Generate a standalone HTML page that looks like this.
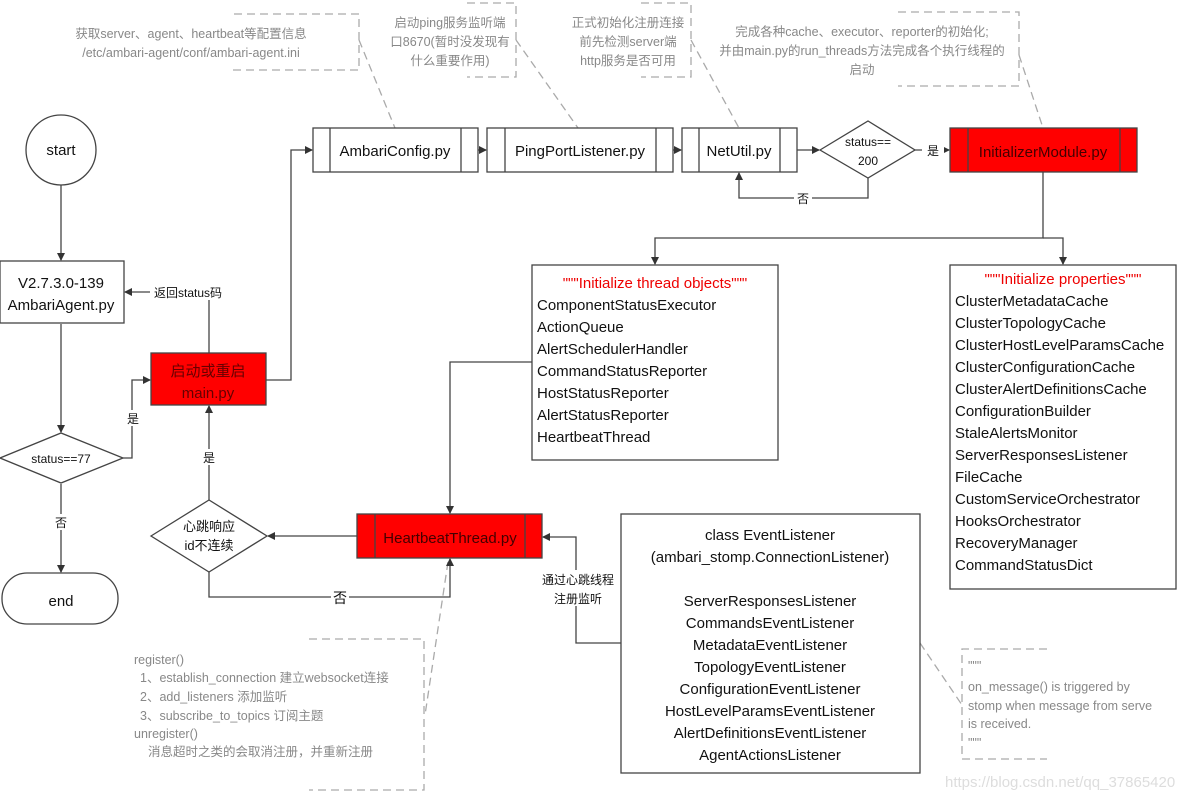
<!DOCTYPE html>
<html><head><meta charset="utf-8"><style>
html,body{margin:0;padding:0;background:#fff;}
svg{display:block;font-family:"Liberation Sans","Noto Sans CJK SC",sans-serif;}
.n{fill:#888;font-size:12.5px;}
.t{fill:#111;font-size:15px;}
.s{fill:#111;font-size:12px;}
.r{fill:#e00;font-size:15px;}
</style></head><body>
<svg width="1191" height="800" viewBox="0 0 1191 800" xmlns="http://www.w3.org/2000/svg">
<defs><marker id="a" markerWidth="8" markerHeight="8" refX="7" refY="4" orient="auto" markerUnits="userSpaceOnUse"><path d="M0,0 L8,4 L0,8 z" fill="#333"/></marker></defs>
<g fill="none" stroke="#aaa" stroke-width="1.3" stroke-dasharray="8,5">
<path d="M234,14 H359 V70 H230"/><path d="M359,40 L395,128"/>
<path d="M467,3 H516 V77 H467"/><path d="M516,40 L578,128"/>
<path d="M641,3 H691 V77 H641"/><path d="M691,40 L739,128"/>
<path d="M898,12 H1019 V86 H898"/><path d="M1019,55 L1043,128"/>
<path d="M309,639 H424 V790 H309"/><path d="M448,562 L425,715"/>
<path d="M1047,649 H962 V759 H1047"/><path d="M920,643 L962,705"/>
</g>
<g class="n" text-anchor="middle">
<text x="191" y="38">获取server、agent、heartbeat等配置信息</text>
<text x="191" y="57">/etc/ambari-agent/conf/ambari-agent.ini</text>
<text x="450" y="27">启动ping服务监听端</text><text x="450" y="46">口8670(暂时没发现有</text><text x="450" y="65">什么重要作用)</text>
<text x="628" y="27">正式初始化注册连接</text><text x="628" y="46">前先检测server端</text><text x="628" y="65">http服务是否可用</text>
<text x="862" y="36">完成各种cache、executor、reporter的初始化;</text><text x="862" y="55">并由main.py的run_threads方法完成各个执行线程的</text><text x="862" y="74">启动</text>
</g>
<g class="n">
<text x="134" y="664">register()</text>
<text x="140" y="682">1、establish_connection 建立websocket连接</text>
<text x="140" y="701">2、add_listeners 添加监听</text>
<text x="140" y="720">3、subscribe_to_topics 订阅主题</text>
<text x="134" y="738">unregister()</text>
<text x="148" y="756">消息超时之类的会取消注册，并重新注册</text>
<text x="968" y="670">"""</text>
<text x="968" y="691">on_message() is triggered by</text>
<text x="968" y="710">stomp when message from serve</text>
<text x="968" y="728">is received.</text>
<text x="968" y="747">"""</text>
</g>
<text x="945" y="787" fill="#ddd" font-size="15">https://blog.csdn.net/qq_37865420</text>
<g stroke="#444" stroke-width="1.3" fill="#fff">
<ellipse cx="61" cy="150" rx="35" ry="35"/>
<rect x="0" y="261" width="124" height="62"/>
<path d="M0,458 L61,433 L123,458 L61,483 Z"/>
<rect x="2" y="573" width="116" height="51" rx="25"/>
<rect x="151" y="353" width="115" height="52" fill="#f00"/>
<rect x="313" y="128" width="165" height="44"/><path d="M330,128V172M461,128V172"/>
<rect x="487" y="128" width="186" height="44"/><path d="M505,128V172M656,128V172"/>
<rect x="682" y="128" width="115" height="44"/><path d="M699,128V172M780,128V172"/>
<path d="M820,150 L868,121 L915,150 L868,178 Z"/>
<rect x="950" y="128" width="187" height="44" fill="#f00"/><path d="M968,128V172M1120,128V172"/>
<rect x="532" y="265" width="246" height="195"/>
<rect x="950" y="265" width="226" height="324"/>
<path d="M151,536 L209,500 L267,536 L209,572 Z"/>
<rect x="357" y="514" width="185" height="44" fill="#f00"/><path d="M375,514V558M525,514V558"/>
<rect x="621" y="514" width="299" height="259"/>
</g>
<g stroke="#444" stroke-width="1.3" fill="none" marker-end="url(#a)">
<path d="M61,185 V260"/>
<path d="M61,324 V432"/>
<path d="M61,484 V572"/>
<path d="M123,458 H132 V380 H150"/>
<path d="M152,292 H125"/>
<path d="M209,500 V406"/>
<path d="M266,380 H291 V150 H312"/>
<path d="M478,150 H486"/>
<path d="M673,150 H681"/>
<path d="M797,150 H819"/>
<path d="M868,178 V198 H739 V173"/>
<path d="M915,150 H949"/>
<path d="M1043,172 V238 H655 V264"/>
<path d="M1043,238 H1063 V264"/>
<path d="M532,362 H450 V513"/>
<path d="M357,536 H268"/>
<path d="M209,572 V597 H450 V559"/>
<path d="M621,643 H576 V537 H543"/>
</g>
<path d="M209,353 V300" stroke="#444" stroke-width="1.3"/>
<g class="s" text-anchor="middle">
<rect x="150" y="284" width="76" height="16" fill="#fff"/>
<text x="188" y="297">返回status码</text>
<rect x="125" y="410" width="16" height="16" fill="#fff"/><text x="133" y="423">是</text>
<rect x="200" y="449" width="18" height="16" fill="#fff"/><text x="209" y="462">是</text>
<rect x="52" y="514" width="18" height="16" fill="#fff"/><text x="61" y="527">否</text>
<rect x="794" y="190" width="18" height="16" fill="#fff"/><text x="803" y="203">否</text>
<rect x="922" y="142" width="22" height="16" fill="#fff"/><text x="933" y="155">是</text>
<rect x="331" y="589" width="18" height="16" fill="#fff"/><text x="340" y="603" font-size="14">否</text>
<rect x="538" y="570" width="78" height="36" fill="#fff"/>
<text x="578" y="584">通过心跳线程</text><text x="578" y="603">注册监听</text>
<text x="868" y="146">status==</text><text x="868" y="165">200</text>
<text x="61" y="463">status==77</text>
<text x="209" y="531" font-size="13">心跳响应</text><text x="209" y="550" font-size="13">id不连续</text>
</g>
<g class="t" text-anchor="middle">
<text x="61" y="155">start</text>
<text x="61" y="288">V2.7.3.0-139</text><text x="61" y="310">AmbariAgent.py</text>
<text x="61" y="606">end</text>
<text x="208" y="376" fill="#600">启动或重启</text><text x="208" y="398" fill="#600">main.py</text>
<text x="395" y="156">AmbariConfig.py</text>
<text x="580" y="156">PingPortListener.py</text>
<text x="739" y="156">NetUtil.py</text>
<text x="1043" y="157" fill="#400">InitializerModule.py</text>
<text x="450" y="543" fill="#400">HeartbeatThread.py</text>
<text x="655" y="288" class="r">"""Initialize thread objects"""</text>
<text x="1063" y="284" class="r">"""Initialize properties"""</text>
<text x="770" y="540">class EventListener</text>
<text x="770" y="562">(ambari_stomp.ConnectionListener)</text>
<text x="770" y="606">ServerResponsesListener</text>
<text x="770" y="628">CommandsEventListener</text>
<text x="770" y="650">MetadataEventListener</text>
<text x="770" y="672">TopologyEventListener</text>
<text x="770" y="694">ConfigurationEventListener</text>
<text x="770" y="716">HostLevelParamsEventListener</text>
<text x="770" y="738">AlertDefinitionsEventListener</text>
<text x="770" y="760">AgentActionsListener</text>
</g>
<g class="t">
<text x="537" y="310">ComponentStatusExecutor</text>
<text x="537" y="332">ActionQueue</text>
<text x="537" y="354">AlertSchedulerHandler</text>
<text x="537" y="376">CommandStatusReporter</text>
<text x="537" y="398">HostStatusReporter</text>
<text x="537" y="420">AlertStatusReporter</text>
<text x="537" y="442">HeartbeatThread</text>
<text x="955" y="306">ClusterMetadataCache</text>
<text x="955" y="328">ClusterTopologyCache</text>
<text x="955" y="350">ClusterHostLevelParamsCache</text>
<text x="955" y="372">ClusterConfigurationCache</text>
<text x="955" y="394">ClusterAlertDefinitionsCache</text>
<text x="955" y="416">ConfigurationBuilder</text>
<text x="955" y="438">StaleAlertsMonitor</text>
<text x="955" y="460">ServerResponsesListener</text>
<text x="955" y="482">FileCache</text>
<text x="955" y="504">CustomServiceOrchestrator</text>
<text x="955" y="526">HooksOrchestrator</text>
<text x="955" y="548">RecoveryManager</text>
<text x="955" y="570">CommandStatusDict</text>
</g>
</svg>
</body></html>
